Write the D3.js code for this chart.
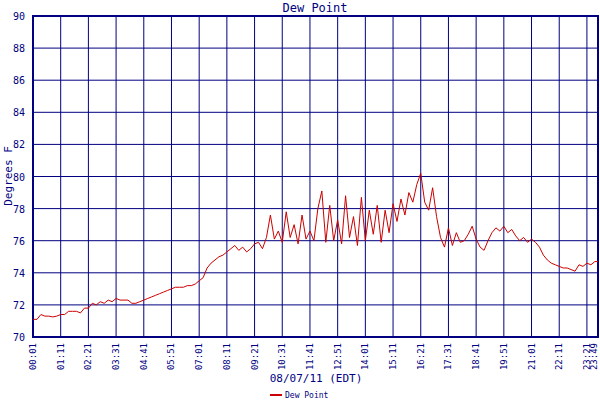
<!DOCTYPE html>
<html><head><meta charset="utf-8">
<script src="https://cdn.jsdelivr.net/npm/d3@7"></script>
<style>body{margin:0;background:#fff}text{font-family:"DejaVu Sans Mono",monospace;fill:#000080}</style>
</head><body><svg width="600" height="400"></svg>
<script>
// dew point readings, one every 10 minutes from 00:01, plus the final one at 23:49
const dew = [71.1,71.1,71.4,71.3,71.3,71.25,71.3,71.4,71.4,71.6,71.6,71.6,71.5,71.8,71.8,72.1,72.0,72.2,72.1,72.3,
72.2,72.4,72.3,72.3,72.3,72.1,72.1,72.2,72.3,72.4,72.5,72.6,72.7,72.8,72.9,73.0,73.1,73.1,73.1,73.2,
73.2,73.3,73.5,73.7,74.3,74.6,74.8,75.0,75.1,75.3,75.5,75.7,75.4,75.6,75.3,75.5,75.8,75.9,75.5,76.2,
77.6,76.1,76.6,75.9,77.8,76.2,77.0,75.8,77.6,76.1,76.6,76.0,78.0,79.1,75.9,78.2,76.0,77.3,75.8,78.8,
76.2,77.5,75.7,78.7,76.0,77.9,76.4,78.2,75.9,77.9,76.5,78.3,77.2,78.6,77.6,79.0,78.4,79.5,80.2,78.4,
77.9,79.3,77.5,76.2,75.6,76.8,75.7,76.5,75.9,76.0,76.4,76.9,76.1,75.6,75.4,76.0,76.5,76.8,76.6,76.9,
76.5,76.7,76.3,76.0,76.2,75.9,76.1,75.9,75.6,75.1,74.8,74.6,74.5,74.4,74.3,74.3,74.2,74.1,74.5,74.4,
74.6,74.5,74.7,74.7];
const minutes = dew.map((d, i) => i < dew.length - 1 ? 1 + i * 10 : 1429);
const tickMinutes = [1,71,141,211,281,351,421,491,561,631,701,771,841,911,981,1051,1121,1191,1261,1331,1401,1429];
const yTicks = [70,72,74,76,78,80,82,84,86,88,90];
const fmt = m => String(Math.floor(m / 60)).padStart(2, "0") + ":" + String(m % 60).padStart(2, "0");

const margin = {top: 16, right: 2, bottom: 63, left: 33};
const width = 600 - margin.left - margin.right, height = 400 - margin.top - margin.bottom;
const svg = d3.select("svg");
const g = svg.append("g").attr("transform", `translate(${margin.left},${margin.top})`);

const x = d3.scaleLinear().domain([1, 1429]).range([0, width]);
const y = d3.scaleLinear().domain([70, 90]).range([height, 0]);

// grid
g.selectAll(".vg").data(tickMinutes).enter().append("line")
  .attr("x1", d => x(d)).attr("x2", d => x(d)).attr("y1", 0).attr("y2", height)
  .attr("stroke", "#000080").attr("stroke-width", 1);
g.selectAll(".hg").data(yTicks).enter().append("line")
  .attr("x1", 0).attr("x2", width).attr("y1", d => y(d)).attr("y2", d => y(d))
  .attr("stroke", "#000080").attr("stroke-width", 1);
g.append("rect").attr("width", width).attr("height", height)
  .attr("fill", "none").attr("stroke", "#000080").attr("stroke-width", 2);

// line
g.append("path").datum(dew)
  .attr("fill", "none").attr("stroke", "#cc0000").attr("stroke-width", 1)
  .attr("d", d3.line().x((d, i) => x(minutes[i])).y(d => y(d)));

// y labels
g.selectAll(".yl").data(yTicks).enter().append("text")
  .attr("x", -8).attr("y", d => y(d) + 4).attr("text-anchor", "end")
  .attr("font-size", 10).text(d => d);

// x labels
g.selectAll(".xl").data(tickMinutes).enter().append("text")
  .attr("transform", d => `translate(${Math.min(x(d) + 3, width - 1)},${height + 6}) rotate(-90)`)
  .attr("text-anchor", "end").attr("font-size", 9).text(fmt);

svg.append("text").attr("x", 315).attr("y", 12).attr("text-anchor", "middle")
  .attr("font-size", 12).text("Dew Point");
svg.append("text").attr("transform", "translate(12,176) rotate(-90)")
  .attr("text-anchor", "middle").attr("font-size", 11).text("Degrees F");
svg.append("text").attr("x", 316).attr("y", 382).attr("text-anchor", "middle")
  .attr("font-size", 11).text("08/07/11 (EDT)");
svg.append("line").attr("x1", 270).attr("x2", 282).attr("y1", 395).attr("y2", 395)
  .attr("stroke", "#cc0000").attr("stroke-width", 2);
svg.append("text").attr("x", 285).attr("y", 398).attr("font-size", 8).text("Dew Point");
</script></body></html>
